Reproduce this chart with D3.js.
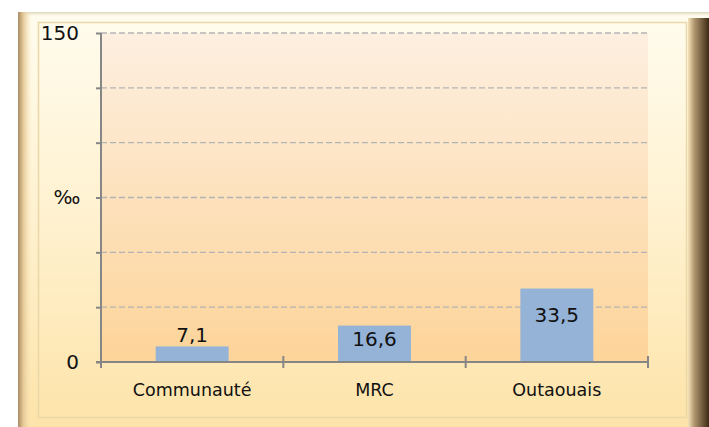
<!DOCTYPE html>
<html>
<head>
<meta charset="utf-8">
<script src="https://cdn.jsdelivr.net/npm/d3@7"></script>
<style>
  html, body { margin: 0; padding: 0; background: #fff; }
  svg { display: block; font-family: "DejaVu Sans", sans-serif; }
</style>
</head>
<body>
<svg id="chart" width="709" height="427"></svg>
<script>
const categories = ['Communauté', 'MRC', 'Outaouais'];
const values = [7.1, 16.6, 33.5];
const yTicks = [0, 25, 50, 75, 100, 125, 150];
const yLabels = [0, 150];
const yTitle = '‰';

const svg = d3.select('#chart');
const defs = svg.append('defs');

const margin = { left: 101, right: 61, top: 33, bottom: 65 };
const width = 709 - margin.left - margin.right;
const height = 427 - margin.top - margin.bottom;

// gradients
let grad = (id, x2, y2, stops) => {
  const g = defs.append('linearGradient').attr('id', id)
    .attr('x1', 0).attr('y1', 0).attr('x2', x2).attr('y2', y2);
  stops.forEach(s => g.append('stop').attr('offset', s[0]).attr('stop-color', s[1]).attr('stop-opacity', s[2] == null ? 1 : s[2]));
};
grad('frameBg', 0, 1, [[0, '#fffcee'], [0.5, '#fff1cf'], [1, '#fde3a8']]);
grad('plotBg', 0, 1, [[0, '#fdefe0'], [1, '#fdd499']]);
grad('leftBevel', 1, 0, [[0, '#a88a64'], [0.35, '#e2c593'], [1, '#fbe9bd', 0]]);
grad('rightBevel', 1, 0, [[0, '#f5e4bb'], [0.3, '#b09670'], [1, '#3c2a14']]);
grad('topBevel', 0, 1, [[0, '#d9d2b8'], [1, '#fffbe9', 0]]);

// frame
svg.append('rect').attr('x', 18).attr('y', 12).attr('width', 691).attr('height', 420)
  .attr('fill', 'url(#frameBg)');
svg.append('rect').attr('x', 18).attr('y', 12).attr('width', 691).attr('height', 5)
  .attr('fill', 'url(#topBevel)');
svg.append('rect').attr('x', 18).attr('y', 12).attr('width', 14).attr('height', 420)
  .attr('fill', 'url(#leftBevel)');
svg.append('rect').attr('x', 688).attr('y', 18).attr('width', 21).attr('height', 414)
  .attr('fill', 'url(#rightBevel)');
svg.append('rect').attr('x', 38.5).attr('y', 22.5).attr('width', 648).attr('height', 395)
  .attr('fill', 'none').attr('stroke', '#ead8a8').attr('stroke-width', 1.5);

const g = svg.append('g').attr('transform', `translate(${margin.left},${margin.top})`);

const x = d3.scaleBand().domain(categories).range([0, width]).paddingInner(0.6).paddingOuter(0.3);
const xb = d3.scaleBand().domain(categories).range([0, width]);
const y = d3.scaleLinear().domain([0, 150]).range([height, 0]);

g.append('rect').attr('width', width).attr('height', height).attr('fill', 'url(#plotBg)');

// gridlines
g.selectAll('.grid').data(yTicks.filter(d => d > 0)).enter().append('line')
  .attr('x1', 0).attr('x2', width)
  .attr('y1', d => y(d)).attr('y2', d => y(d))
  .attr('stroke', '#b4b4b4').attr('stroke-width', 1.3).attr('stroke-dasharray', '6,3');

// bars
g.selectAll('.bar').data(values).enter().append('rect')
  .attr('x', (d, i) => x(categories[i]))
  .attr('width', x.bandwidth())
  .attr('y', d => y(d))
  .attr('height', d => y(0) - y(d))
  .attr('fill', '#95b3d7');

// value labels
g.selectAll('.val').data(values).enter().append('text')
  .attr('x', (d, i) => x(categories[i]) + x.bandwidth() / 2)
  .attr('y', d => {
    const h = y(0) - y(d);
    if (h < 24) return y(d) - 12;
    return y(d) + Math.min(26, h / 2 - 5);
  })
  .attr('dy', '0.36em')
  .attr('text-anchor', 'middle')
  .attr('font-size', 20)
  .attr('fill', '#111')
  .text(d => String(d).replace('.', ','));

// y axis
const yAxis = g.append('g').call(d3.axisLeft(y).tickValues(yTicks).tickSize(5).tickFormat(''));
yAxis.select('.domain').attr('stroke', '#868686').attr('stroke-width', 2).attr('d', `M0,${height + 1}V0`);
yAxis.selectAll('.tick line').attr('stroke', '#868686').attr('stroke-width', 2);
g.selectAll('.ylab').data(yLabels).enter().append('text')
  .attr('x', -22).attr('y', d => y(d)).attr('dy', '0.36em')
  .attr('text-anchor', 'end').attr('font-size', 20).attr('fill', '#111')
  .text(d => d);
g.append('text').attr('x', -34).attr('y', y(75)).attr('dy', '0.3em')
  .attr('text-anchor', 'middle').attr('font-size', 20).attr('fill', '#111').text(yTitle);

// x axis
const xAxis = g.append('g').attr('transform', `translate(0,${height})`)
  .call(d3.axisBottom(xb).tickSize(0).tickFormat(''));
xAxis.select('.domain').attr('stroke', '#868686').attr('stroke-width', 2).attr('d', `M-5,0H${width}`);
xAxis.selectAll('.tick').remove();
xAxis.selectAll('.xt').data(d3.range(categories.length + 1)).enter().append('line')
  .attr('x1', i => i * xb.step()).attr('x2', i => i * xb.step())
  .attr('y1', -6).attr('y2', 6)
  .attr('stroke', '#868686').attr('stroke-width', 2);
g.selectAll('.xlab').data(categories).enter().append('text')
  .attr('x', d => xb(d) + xb.bandwidth() / 2)
  .attr('y', height + 28).attr('dy', '0.36em')
  .attr('text-anchor', 'middle').attr('font-size', 17.5).attr('fill', '#111')
  .text(d => d);
</script>
</body>
</html>
